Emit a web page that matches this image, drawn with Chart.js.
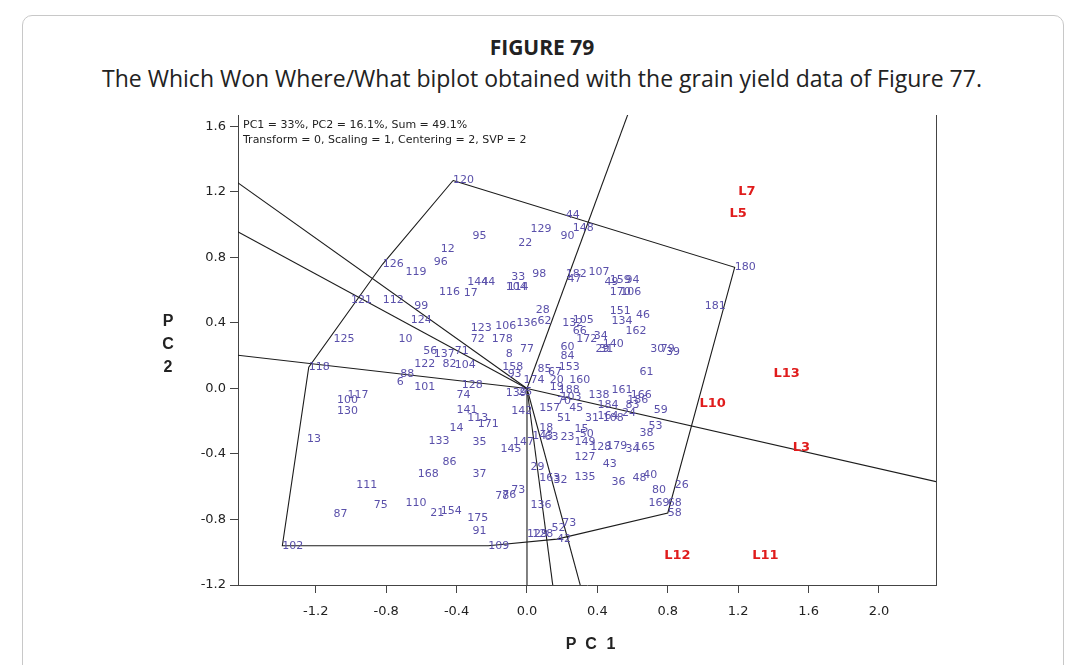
<!DOCTYPE html>
<html>
<head>
<meta charset="utf-8">
<title>Which Won Where/What biplot</title>
<script src="https://cdn.jsdelivr.net/npm/chart.js@4.4.1/dist/chart.umd.min.js"></script>
<style>
  html, body { margin: 0; padding: 0; background: #fff; }
  body { width: 1084px; height: 665px; position: relative; overflow: hidden; font-family: "Open Sans", sans-serif; color: #222; }
  .frame { position: absolute; left: 22px; top: 15px; width: 1040px; height: 700px; border: 1px solid #c8c8c8; border-radius: 10px; }
  .fig-no { position: absolute; top: 33px; left: 0; width: 1084px; text-align: center; font-weight: bold; font-size: 21px; }
  .fig-cap { position: absolute; top: 62px; left: 0; width: 1084px; text-align: center; font-size: 23px; }
  #wrap { position: absolute; left: 0; top: 0; width: 1084px; height: 665px; }
</style>
</head>
<body>
<div class="frame"></div>
<div class="fig-no">FIGURE 79</div>
<div class="fig-cap">The Which Won Where/What biplot obtained with the grain yield data of Figure 77.</div>
<div id="wrap"><canvas id="biplot" width="1084" height="665"></canvas></div>
<script>
// genotype scores (PC1, PC2)
const genoNames = ['120','95','129','22','44','148','90','12','96','126','119','116','17','144','44','33','104','114','98','182','47','107','159','49','94','170','106','180','181','121','112','99','124','28','123','106','136','62','72','178','132','105','151','46','134','162','66','172','34','140','29','31','60','84','153','85','67','20','160','19','188','103','138','161','166','186','83','24','59','53','38','61','30','79','39','184','157','45','70','51','31','164','108','15','50','18','143','63','23','145','147','149','127','128','179','34','165','43','135','163','32','29','36','48','40','80','26','169','68','58','136','73','78','76','37','86','35','133','14','141','113','171','142','168','21','154','175','91','110','75','87','111','13','130','100','117','101','6','88','122','10','125','118','102','109','42','52','73','129','128','56','137','71','82','104','128','74','8','77','158','93','174','139','25'];
const genoX = [-0.42,-0.31,0.02,-0.05,0.22,0.26,0.19,-0.49,-0.53,-0.82,-0.69,-0.50,-0.36,-0.34,-0.26,-0.09,-0.12,-0.11,0.03,0.22,0.23,0.35,0.47,0.44,0.56,0.47,0.53,1.18,1.01,-1.00,-0.82,-0.64,-0.66,0.05,-0.32,-0.18,-0.06,0.06,-0.32,-0.20,0.20,0.26,0.47,0.62,0.48,0.56,0.26,0.28,0.38,0.43,0.39,0.41,0.19,0.19,0.18,0.06,0.12,0.13,0.24,0.13,0.18,0.19,0.35,0.48,0.59,0.57,0.56,0.54,0.72,0.69,0.64,0.64,0.70,0.76,0.79,0.40,0.07,0.24,0.17,0.17,0.33,0.40,0.43,0.27,0.30,0.07,0.03,0.10,0.19,-0.15,-0.08,0.27,0.27,0.36,0.45,0.56,0.61,0.43,0.27,0.07,0.15,0.02,0.48,0.60,0.66,0.71,0.84,0.69,0.80,0.80,0.02,-0.09,-0.18,-0.14,-0.31,-0.48,-0.31,-0.56,-0.44,-0.40,-0.34,-0.28,-0.09,-0.62,-0.55,-0.49,-0.34,-0.31,-0.69,-0.87,-1.10,-0.97,-1.25,-1.08,-1.08,-1.02,-0.64,-0.74,-0.72,-0.64,-0.73,-1.10,-1.24,-1.39,-0.22,0.17,0.14,0.20,0.00,0.03,-0.59,-0.53,-0.41,-0.48,-0.41,-0.37,-0.40,-0.12,-0.04,-0.14,-0.11,-0.02,-0.12,-0.05];
const genoY = [1.27,0.93,0.97,0.89,1.06,0.98,0.93,0.85,0.77,0.76,0.71,0.59,0.58,0.65,0.65,0.68,0.62,0.62,0.70,0.70,0.67,0.71,0.66,0.65,0.66,0.59,0.59,0.74,0.50,0.54,0.54,0.50,0.42,0.48,0.37,0.38,0.40,0.41,0.30,0.30,0.40,0.42,0.47,0.45,0.41,0.35,0.35,0.30,0.32,0.27,0.24,0.24,0.25,0.20,0.13,0.12,0.10,0.05,0.05,0.01,-0.01,-0.05,-0.04,-0.01,-0.04,-0.07,-0.10,-0.15,-0.13,-0.23,-0.27,0.10,0.24,0.24,0.22,-0.10,-0.12,-0.12,-0.08,-0.18,-0.18,-0.17,-0.18,-0.25,-0.28,-0.24,-0.29,-0.30,-0.30,-0.37,-0.33,-0.33,-0.42,-0.36,-0.35,-0.37,-0.36,-0.46,-0.54,-0.55,-0.56,-0.48,-0.57,-0.55,-0.53,-0.62,-0.59,-0.70,-0.70,-0.76,-0.71,-0.62,-0.66,-0.65,-0.52,-0.45,-0.33,-0.32,-0.24,-0.13,-0.18,-0.22,-0.14,-0.52,-0.76,-0.75,-0.79,-0.87,-0.70,-0.71,-0.77,-0.59,-0.31,-0.14,-0.07,-0.04,0.01,0.04,0.09,0.15,0.30,0.30,0.13,-0.96,-0.96,-0.92,-0.85,-0.82,-0.89,-0.89,0.23,0.21,0.23,0.15,0.14,0.02,-0.04,0.21,0.24,0.13,0.09,0.05,-0.03,-0.02];

// environment scores
const envNames = ['L7','L5','L13','L10','L3','L12','L11'];
const envX = [1.20,1.15,1.40,0.98,1.51,0.78,1.28];
const envY = [1.20,1.07,0.09,-0.09,-0.36,-1.02,-1.02];

// polygon vertices (genotypes furthest from the origin)
const hullNames = ['120','180','58','42','109','102','118','126','120'];

// far ends of the rays from the origin, perpendicular to the polygon sides
const rayX = [0.63,2.45,0.31,0.15,0.00,-1.70,-1.70,-1.70];
const rayY = [1.84,-0.60,-1.23,-1.23,-1.25,0.21,0.99,1.30];

const xTicks = [-1.2,-0.8,-0.4,0.0,0.4,0.8,1.2,1.6,2.0];
const yTicks = [-1.2,-0.8,-0.4,0.0,0.4,0.8,1.2,1.6];

const infoLines = ['PC1 = 33%, PC2 = 16.1%, Sum = 49.1%',
                   'Transform = 0, Scaling = 1, Centering = 2, SVP = 2'];

const lineColor = '#1c1c1c';
const genoColor = '#5a50aa';
const envColor = '#e01c1c';

const rayDatasets = rayX.map((x, i) => ({
  data: [{x: 0, y: 0}, {x: x, y: rayY[i]}],
  showLine: true, borderColor: lineColor, borderWidth: 1.1, pointRadius: 0
}));

const hullData = hullNames.map(n => {
  const i = genoNames.indexOf(n);
  return {x: genoX[i], y: genoY[i]};
});

// writes the genotype and environment names at their scores
const labelPlugin = {
  id: 'scoreLabels',
  afterDatasetsDraw(chart) {
    const {ctx, scales: {x, y}, chartArea} = chart;
    ctx.save();
    ctx.textAlign = 'left';
    ctx.textBaseline = 'middle';
    ctx.font = '11px "DejaVu Sans"';
    ctx.fillStyle = genoColor;
    genoNames.forEach((n, i) => {
      ctx.fillText(n, x.getPixelForValue(genoX[i]), y.getPixelForValue(genoY[i]));
    });
    ctx.font = 'bold 13px "DejaVu Sans"';
    ctx.fillStyle = envColor;
    envNames.forEach((n, i) => {
      ctx.fillText(n, x.getPixelForValue(envX[i]), y.getPixelForValue(envY[i]));
    });

    // info text in the upper left corner
    ctx.font = '11px "DejaVu Sans"';
    ctx.fillStyle = '#222';
    ctx.fillText(infoLines[0], chartArea.left + 5, chartArea.top + 10);
    ctx.fillText(infoLines[1], chartArea.left + 5, chartArea.top + 25);

    // right edge of the plot
    ctx.strokeStyle = '#444';
    ctx.lineWidth = 1;
    ctx.beginPath();
    ctx.moveTo(chartArea.right + 0.5, chartArea.top);
    ctx.lineTo(chartArea.right + 0.5, chartArea.bottom);
    ctx.stroke();

    // axis titles, letters spread out
    ctx.fillStyle = '#222';
    ctx.font = 'bold 16px "Liberation Sans"';
    ctx.textAlign = 'center';
    ['P', 'C', '2'].forEach((c, i) => ctx.fillText(c, 168, 322 + i * 23));
    ['P', 'C', '1'].forEach((c, i) => ctx.fillText(c, 571 + i * 20, 645));
    ctx.restore();
  }
};

new Chart(document.getElementById('biplot'), {
  type: 'scatter',
  data: {
    datasets: [
      ...rayDatasets,
      {data: hullData, showLine: true, borderColor: lineColor, borderWidth: 1.1, pointRadius: 0},
      {data: genoX.map((x, i) => ({x: x, y: genoY[i]})), pointRadius: 0},
      {data: envX.map((x, i) => ({x: x, y: envY[i]})), pointRadius: 0}
    ]
  },
  options: {
    responsive: false,
    animation: false,
    layout: {padding: {top: 115, right: 148, bottom: 0, left: 0}},
    plugins: {legend: {display: false}, tooltip: {enabled: false}},
    scales: {
      x: {
        type: 'linear', min: -1.642, max: 2.324,
        afterBuildTicks: s => { s.ticks = xTicks.map(v => ({value: v})); },
        afterFit: s => { s.height = 80; },
        ticks: {callback: v => v.toFixed(1), color: '#222', padding: 11, font: {family: 'DejaVu Sans', size: 13}},
        grid: {drawOnChartArea: false, tickLength: 8, color: '#444'},
        border: {color: '#444', width: 1}
      },
      y: {
        type: 'linear', min: -1.2, max: 1.67,
        afterBuildTicks: s => { s.ticks = yTicks.map(v => ({value: v})); },
        afterFit: s => { s.width = 238; },
        ticks: {callback: v => v.toFixed(1), color: '#222', padding: 4, font: {family: 'DejaVu Sans', size: 13}},
        grid: {drawOnChartArea: false, tickLength: 8, color: '#444'},
        border: {color: '#444', width: 1}
      }
    }
  },
  plugins: [labelPlugin]
});
</script>
</body>
</html>
